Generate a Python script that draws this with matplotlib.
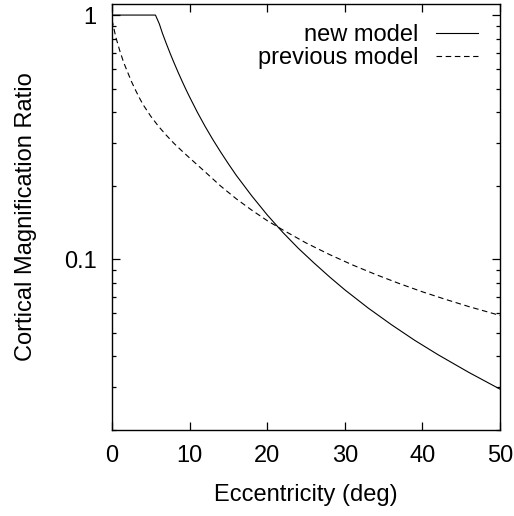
import numpy as np
import matplotlib
matplotlib.use('Agg')
import matplotlib.pyplot as plt
from matplotlib.ticker import FixedLocator, NullFormatter

plt.rcParams['font.family'] = ['Liberation Sans', 'DejaVu Sans']
plt.rcParams['lines.scale_dashes'] = False

# eccentricity (deg) and magnification ratio
ecc_new = [0, 5.6, 6.1, 6.5, 7, 7.5, 8, 8.5, 9, 9.5, 10, 11, 12, 13, 14, 15, 16, 18, 20,
           22, 24, 26, 28, 30, 33, 36, 39, 42, 46, 50]
ratio_new = [1.0, 1.0, 0.92, 0.842, 0.764, 0.696, 0.637, 0.585, 0.539, 0.498, 0.462, 0.400,
             0.350, 0.309, 0.275, 0.246, 0.221, 0.182, 0.152, 0.129, 0.111, 0.0968,
             0.0849, 0.0750, 0.0632, 0.0540, 0.0466, 0.0407, 0.0344, 0.0294]

ecc_prev = [0, 0.5, 1, 1.5, 2, 2.5, 3, 3.5, 4, 5, 6, 7, 8, 9, 10, 12, 14, 16, 18, 20, 22,
            25, 28, 31, 34, 37, 40, 43, 46, 50]
ratio_prev = [0.955, 0.81, 0.715, 0.64, 0.585, 0.535, 0.495, 0.46, 0.43, 0.385, 0.35, 0.322,
              0.298, 0.278, 0.26, 0.228, 0.1995, 0.177, 0.159, 0.144, 0.132, 0.1167,
              0.1047, 0.0948, 0.0866, 0.0796, 0.0736, 0.0685, 0.064, 0.0589]

fig = plt.figure(figsize=(5.14, 5.16), dpi=100)
ax = fig.add_axes([112 / 514, 1 - 430 / 516, 388 / 514, 426 / 516])

ax.plot(ecc_new, ratio_new, color='black', lw=0.8, label='new model')
ax.plot(ecc_prev, ratio_prev, color='black', lw=0.8, dashes=(4, 2.6), label='previous model')

ax.set_yscale('log')
ax.set_xlim(0, 50)
ax.set_ylim(0.02, 1.11)
ax.set_xticks([0, 10, 20, 30, 40, 50])
ax.yaxis.set_major_locator(FixedLocator([0.1, 1]))
ax.set_yticklabels(['0.1', '1'])
minor = [m * 10.0 ** e for e in (-2, -1) for m in range(2, 10)]
ax.yaxis.set_minor_locator(FixedLocator(minor))
ax.yaxis.set_minor_formatter(NullFormatter())

ax.tick_params(which='both', direction='in', top=True, right=True, width=0.9,
               labelsize=17, pad=11)
ax.tick_params(which='major', length=6)
ax.tick_params(which='minor', length=3)
for s in ax.spines.values():
    s.set_linewidth(1.0)

ax.set_xlabel('Eccentricity (deg)', fontsize=17)
ax.set_ylabel('Cortical Magnification Ratio', fontsize=17)
ax.xaxis.set_label_coords(0.5, -0.127)
ax.yaxis.set_label_coords(-0.193, 0.5)

ax.legend(loc='upper right', bbox_to_anchor=(0.943, 0.952), frameon=False,
          markerfirst=False, fontsize=17, handlelength=1.78, handletextpad=0.72,
          labelspacing=0.02, borderpad=0, borderaxespad=0)

fig.savefig('out.png', dpi=100)
